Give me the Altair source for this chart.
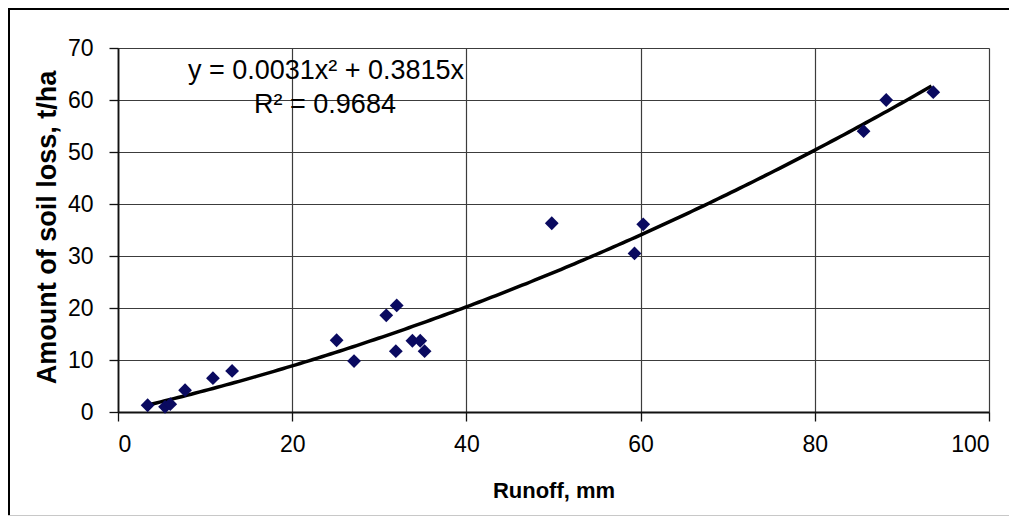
import altair as alt
import pandas as pd

# Data
runoff = [3.4, 5.4, 6.0, 7.7, 10.9, 13.1, 25.1, 27.1, 30.8, 32.0, 31.9, 33.8, 34.7, 35.2,
          49.8, 59.3, 60.3, 85.6, 88.2, 93.6]
soil_loss = [1.3, 1.0, 1.5, 4.2, 6.5, 7.9, 13.8, 9.8, 18.6, 20.5, 11.7, 13.7, 13.7, 11.7,
             36.3, 30.5, 36.1, 54.0, 60.0, 61.5]

# Trendline shown in the chart: y = A x^2 + B x
coef_a = 0.0031
coef_b = 0.3815
eq_lines = ["y = 0.0031x\u00b2 + 0.3815x", "R\u00b2 = 0.9684"]

x_title = "Runoff, mm"
y_title = "Amount of soil loss, t/ha"
x_ticks = [0, 20, 40, 60, 80, 100]
y_ticks = [0, 10, 20, 30, 40, 50, 60, 70]

df = pd.DataFrame({"runoff": runoff, "loss": soil_loss})

W, H = 871, 364
FONT = "Liberation Sans, Arial, sans-serif"
GRID = "#3c3c3c"

xscale = alt.Scale(domain=[0, 100], nice=False, zero=False)
yscale = alt.Scale(domain=[0, 70], nice=False, zero=False)

common = dict(grid=True, gridColor=GRID, gridWidth=1.2, gridOpacity=1,
              domainColor="#111", domainWidth=1.8, tickColor="#111", tickWidth=1.3,
              tickSize=9, labelFontSize=23, labelFont=FONT, labelColor="#000",
              titleColor="#000", titleFontWeight="bold")

xaxis = alt.Axis(values=x_ticks, title=x_title, labelPadding=12,
                 titleFont=FONT, titleFontSize=22,
                 titleBaseline="alphabetic", titleY=85, titleX=W / 2, **common)
yaxis = alt.Axis(values=y_ticks, title=y_title, labelPadding=16,
                 titleFont=FONT, titleFontSize=27,
                 titleX=-71, titleY=179, titleAngle=270, titleBaseline="middle", **common)

points = alt.Chart(df).mark_point(
    shape="diamond", filled=True, size=190, color="#0a0a60", opacity=1
).encode(
    x=alt.X("runoff:Q", scale=xscale, axis=xaxis),
    y=alt.Y("loss:Q", scale=yscale, axis=yaxis),
)

trend = alt.Chart(alt.sequence(min(runoff), max(runoff) + 0.01, 0.5, as_="x")).transform_calculate(
    y=f"{coef_a} * datum.x * datum.x + {coef_b} * datum.x"
).mark_line(color="#000", strokeWidth=3.5).encode(
    x=alt.X("x:Q", scale=xscale, axis=xaxis), y=alt.Y("y:Q", scale=yscale, axis=yaxis)
)

eq_df = pd.DataFrame({"t": eq_lines, "row": [0, 1]})
eq1 = alt.Chart(eq_df).transform_filter("datum.row == 0").mark_text(
    font=FONT, fontSize=27, color="#000", align="center", baseline="alphabetic"
).encode(text="t:N", x=alt.value(208), y=alt.value(31))
eq2 = alt.Chart(eq_df).transform_filter("datum.row == 1").mark_text(
    font=FONT, fontSize=27, color="#000", align="center", baseline="alphabetic"
).encode(text="t:N", x=alt.value(207), y=alt.value(65))

frame_left = alt.Chart(df).mark_rule(color="#000", strokeWidth=1.5).encode(
    x=alt.value(-109.5), y=alt.value(-39.5), y2=alt.value(470))
frame_top = alt.Chart(df).mark_rule(color="#000", strokeWidth=1.5).encode(
    x=alt.value(-109.5), x2=alt.value(910), y=alt.value(-39.5))
frame_bottom = alt.Chart(df).mark_rule(color="#c8c8c8", strokeWidth=1).encode(
    x=alt.value(-109.5), x2=alt.value(910), y=alt.value(467.5))

chart = alt.layer(frame_left, frame_top, frame_bottom, trend, points, eq1, eq2).properties(
    width=W, height=H,
    autosize=alt.AutoSizeParams(type="none"),
    padding={"left": 110, "top": 40, "right": 20, "bottom": 104},
).configure_view(stroke="#000", strokeWidth=1.5).configure(background="white")

chart.save("out.html", embed_options={"renderer": "svg", "actions": False})
